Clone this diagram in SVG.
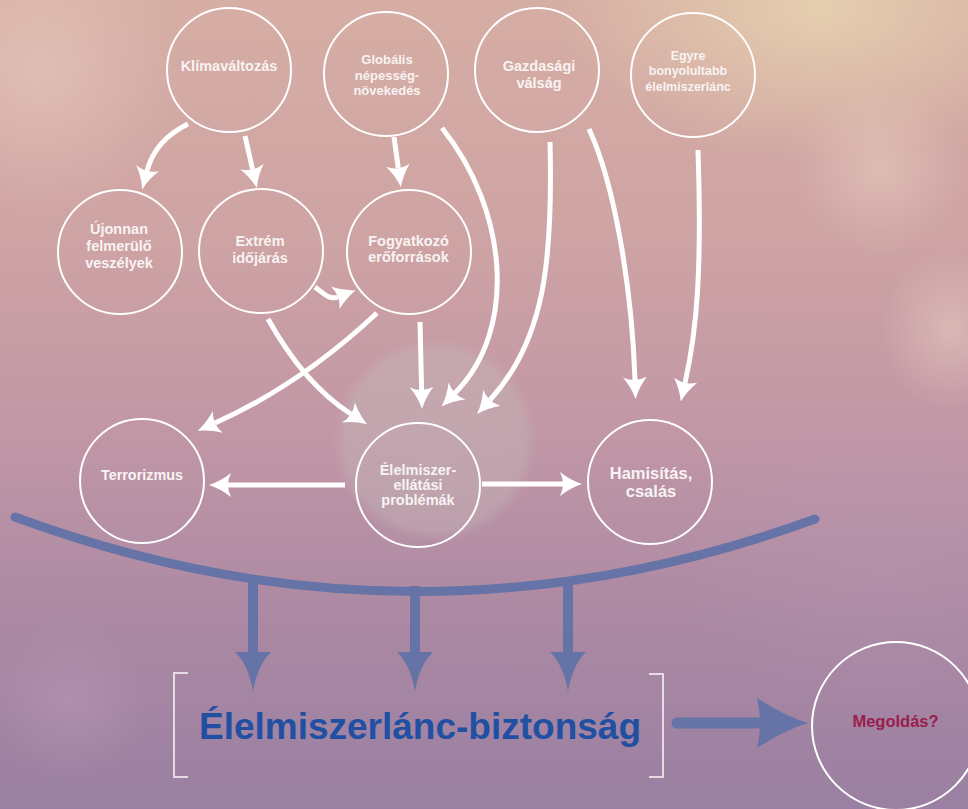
<svg xmlns="http://www.w3.org/2000/svg" width="968" height="809" viewBox="0 0 968 809">
  <defs>
    <linearGradient id="bg" x1="0" y1="0" x2="0" y2="1">
      <stop offset="0" stop-color="#d6aea4"/>
      <stop offset="0.3" stop-color="#cea3a4"/>
      <stop offset="0.55" stop-color="#c096a6"/>
      <stop offset="0.78" stop-color="#aa88a3"/>
      <stop offset="1" stop-color="#9a80a2"/>
    </linearGradient>
    <radialGradient id="glowBeige" cx="0.5" cy="0.5" r="0.5">
      <stop offset="0" stop-color="#e8d3b0" stop-opacity="0.85"/>
      <stop offset="1" stop-color="#e8d3b0" stop-opacity="0"/>
    </radialGradient>
    <radialGradient id="glowLight" cx="0.5" cy="0.5" r="0.5">
      <stop offset="0" stop-color="#ecd0c4" stop-opacity="0.5"/>
      <stop offset="1" stop-color="#ecd0c4" stop-opacity="0"/>
    </radialGradient>
    <radialGradient id="disc" cx="0.5" cy="0.5" r="0.5">
      <stop offset="0" stop-color="#c4bab8" stop-opacity="0.45"/>
      <stop offset="0.88" stop-color="#c4bab8" stop-opacity="0.38"/>
      <stop offset="1" stop-color="#c4bab8" stop-opacity="0"/>
    </radialGradient>
    <radialGradient id="purpleGlow" cx="0.5" cy="0.5" r="0.5">
      <stop offset="0" stop-color="#b899b5" stop-opacity="0.5"/>
      <stop offset="1" stop-color="#b899b5" stop-opacity="0"/>
    </radialGradient>
    <marker id="wh" viewBox="0 0 22 24" refX="3" refY="12" markerWidth="22" markerHeight="24" markerUnits="userSpaceOnUse" orient="auto">
      <path d="M22,12 Q10,8 0,0 Q6,12 0,24 Q10,16 22,12 Z" fill="#ffffff"/>
    </marker>
    <style>
      .node circle { fill: none; stroke: #ffffff; stroke-width: 2; }
      .lbl { font-family: "Liberation Sans", Arial, sans-serif; font-weight: bold; fill: #f8f3f3; text-anchor: middle; }
      .wa { fill: none; stroke: #ffffff; stroke-width: 5; marker-end: url(#wh); }
      .blue { fill: #6673a6; }
      .bluestroke { fill: none; stroke: #6673a6; }
      .br { fill: none; stroke: #f2eaf0; stroke-opacity: 0.85; stroke-width: 2; }
    </style>
  </defs>

  <!-- background -->
  <rect x="0" y="0" width="968" height="809" fill="url(#bg)"/>
  <ellipse cx="820" cy="10" rx="260" ry="150" fill="url(#glowBeige)"/>
  <ellipse cx="40" cy="70" rx="140" ry="150" fill="url(#glowLight)"/>
  <ellipse cx="880" cy="170" rx="85" ry="85" fill="url(#glowLight)"/>
  <ellipse cx="950" cy="330" rx="70" ry="80" fill="url(#glowLight)"/>
  <circle cx="435" cy="440" r="102" fill="url(#disc)"/>
  <ellipse cx="70" cy="700" rx="80" ry="80" fill="url(#purpleGlow)"/>
  <ellipse cx="880" cy="560" rx="200" ry="160" fill="url(#purpleGlow)" opacity="0.6"/>

  <!-- nodes -->
  <g id="klimavaltozas" class="node">
    <circle cx="229" cy="70" r="62"/>
    <text class="lbl" x="229" y="71" font-size="14.5">Klímaváltozás</text>
  </g>
  <g id="globalis" class="node">
    <circle cx="386" cy="74" r="62"/>
    <text class="lbl" x="387" y="64" font-size="13">Globális</text>
    <text class="lbl" x="387" y="79.5" font-size="13">népesség-</text>
    <text class="lbl" x="387" y="94.5" font-size="13">növekedés</text>
  </g>
  <g id="gazdasagi" class="node">
    <circle cx="537" cy="70" r="62"/>
    <text class="lbl" x="539" y="71" font-size="14.5">Gazdasági</text>
    <text class="lbl" x="539" y="88" font-size="14.5">válság</text>
  </g>
  <g id="egyre" class="node">
    <circle cx="693" cy="75" r="62"/>
    <text class="lbl" x="688" y="60" font-size="12.5">Egyre</text>
    <text class="lbl" x="688" y="75" font-size="12.5">bonyolultabb</text>
    <text class="lbl" x="688" y="90.5" font-size="12.5">élelmiszerlánc</text>
  </g>
  <g id="ujonnan" class="node">
    <circle cx="120" cy="252" r="62"/>
    <text class="lbl" x="119" y="234" font-size="14.5">Újonnan</text>
    <text class="lbl" x="119" y="251" font-size="14.5">felmerülő</text>
    <text class="lbl" x="119" y="268" font-size="14.5">veszélyek</text>
  </g>
  <g id="extrem" class="node">
    <circle cx="261" cy="251" r="62"/>
    <text class="lbl" x="260" y="246" font-size="14.5">Extrém</text>
    <text class="lbl" x="260" y="262.5" font-size="14.5">időjárás</text>
  </g>
  <g id="fogyatkozo" class="node">
    <circle cx="409" cy="252" r="62"/>
    <text class="lbl" x="408.5" y="246" font-size="14.5">Fogyatkozó</text>
    <text class="lbl" x="408.5" y="262" font-size="14.5">erőforrások</text>
  </g>
  <g id="terrorizmus" class="node">
    <circle cx="142" cy="481" r="62"/>
    <text class="lbl" x="142" y="480" font-size="14.4">Terrorizmus</text>
  </g>
  <g id="elelmiszer-ellatasi" class="node">
    <circle cx="418" cy="485" r="62"/>
    <text class="lbl" x="418" y="475" font-size="14.5">Élelmiszer-</text>
    <text class="lbl" x="418" y="489.5" font-size="14.5">ellátási</text>
    <text class="lbl" x="418" y="504.5" font-size="14.5">problémák</text>
  </g>
  <g id="hamisitas" class="node">
    <circle cx="650" cy="482" r="62"/>
    <text class="lbl" x="651" y="479" font-size="16.5">Hamisítás,</text>
    <text class="lbl" x="651" y="497" font-size="16.5">csalás</text>
  </g>
  <g id="megoldas" class="node">
    <circle cx="896" cy="726" r="84"/>
    <text x="895.5" y="727" font-size="16.5" font-family="Liberation Sans, Arial, sans-serif" font-weight="bold" fill="#9b1d4d" text-anchor="middle">Megoldás?</text>
  </g>
  <g id="elelmiszerlanc-biztonsag">
    <path class="br" d="M188,673 L174,673 L174,777 L188,777"/>
    <path class="br" d="M649,674 L663,674 L663,777 L649,777"/>
    <text x="420" y="739" font-size="37" font-family="Liberation Sans, Arial, sans-serif" font-weight="bold" fill="#2150a2" text-anchor="middle">Élelmiszerlánc-biztonság</text>
  </g>

  <!-- connectors -->
  <g id="connectors">
    <path class="wa" d="M188,124 Q155,140 147,171"/>
    <path class="wa" d="M245,136 L252.6,169.5"/>
    <path class="wa" d="M394,137 L398.3,168.2"/>
    <path class="wa" d="M315,287 C324,294 330,300 338,297"/>
    <path class="wa" d="M268,319 Q305,385 351,414"/>
    <path class="wa" d="M377,313 Q300,385 215,423"/>
    <path class="wa" d="M420,322 L421.6,390"/>
    <path class="wa" d="M442,128 C508,210 518,330 455,393"/>
    <path class="wa" d="M550,142 C553,260 545,340 490,400"/>
    <path class="wa" d="M589,129 C615,185 632,290 635,380"/>
    <path class="wa" d="M698,150 C702,270 697,330 685,383"/>
    <path class="wa" d="M345,485 L228,485"/>
    <path class="wa" d="M482,484 L563,484"/>

    <!-- blue arc and arrows -->
    <path class="bluestroke" stroke-width="9" stroke-linecap="round" d="M15,517 Q415,665 815,519"/>
    <path class="bluestroke" stroke-width="10" d="M253,578 L253,660"/>
    <path class="bluestroke" stroke-width="10" d="M415,586 L415,660"/>
    <path class="bluestroke" stroke-width="10" d="M568,580 L568,660"/>
    <path class="blue" d="M235,652 L271,652 Q258,664 253,691 Q248,664 235,652 Z"/>
    <path class="blue" d="M397,652 L433,652 Q420,664 415,691 Q410,664 397,652 Z"/>
    <path class="blue" d="M550,652 L586,652 Q573,664 568,691 Q563,664 550,652 Z"/>
    <path class="bluestroke" stroke-width="11" stroke-linecap="round" d="M677,723 L762,723"/>
    <path class="blue" d="M757,698 Q785,716 808,723 Q785,730 757,748 Q763,723 757,698 Z"/>
  </g>
</svg>
